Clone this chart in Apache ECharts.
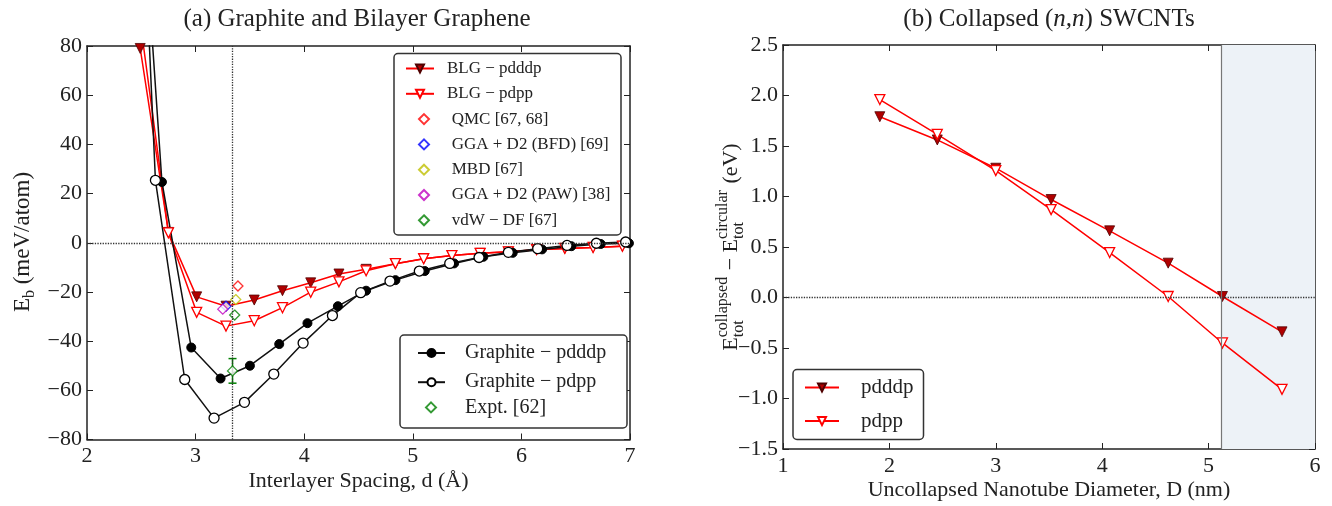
<!DOCTYPE html>
<html lang="en">
<head>
    <meta charset="UTF-8">
    <title>Graphite / BLG binding energy and collapsed SWCNTs</title>
    <style>
        *{ margin: 0; padding: 0; }
        body{ background: #fff; }
    </style>
</head>
<body>
<div id="main" style="width: 1332px;height: 506px;"></div>
<script src="https://cdn.jsdelivr.net/npm/echarts@6/dist/echarts.min.js"></script>
<script type="text/javascript">
    // (a) bilayer graphene, interlayer spacing (Å) and binding energy (meV/atom)
    var blgD      = [2.49, 2.75, 3.01, 3.28, 3.54, 3.80, 4.06, 4.32, 4.57, 4.84, 5.10, 5.36, 5.62, 5.88, 6.14, 6.40, 6.66, 6.93];
    var blgPdddp  = [79, 4.2, -22.0, -25.8, -23.3, -19.5, -16.3, -12.7, -10.8, -8.5, -6.5, -5.2, -4.3, -3.7, -2.8, -2.3, -1.9, -1.4];
    var blgPdpp   = [90, 4.0, -28.3, -33.9, -31.7, -26.4, -20.1, -15.9, -11.4, -8.5, -6.5, -5.2, -4.3, -3.7, -2.8, -2.3, -1.9, -1.4];

    // (a) graphite
    var grDdddp   = [2.42, 2.69, 2.96, 3.23, 3.50, 3.77, 4.03, 4.31, 4.57, 4.84, 5.11, 5.38, 5.65, 5.92, 6.19, 6.46, 6.73, 6.99];
    var grPdddp   = [200, 24.7, -42.6, -55.2, -50.0, -41.2, -32.7, -25.8, -19.5, -15.2, -11.5, -8.4, -5.7, -4.1, -2.7, -1.4, -0.5, -0.2];
    var grDdpp    = [2.36, 2.63, 2.90, 3.17, 3.45, 3.72, 3.99, 4.26, 4.52, 4.79, 5.06, 5.34, 5.61, 5.88, 6.15, 6.42, 6.69, 6.96];
    var grPdpp    = [293, 25.4, -55.6, -71.3, -64.9, -53.4, -40.8, -29.6, -20.3, -15.6, -11.5, -8.4, -6.0, -3.9, -2.4, -1.1, -0.2, 0.3];

    // (a) reference values [d, E]
    var qmc  = [[3.39, -17.6]];
    var bfd  = [[3.28, -25.8]];
    var mbd  = [[3.37, -23.1]];
    var paw  = [[3.25, -27.0]];
    var vdw  = [[3.36, -29.4]];
    var expt = [[3.34, -52.1]];
    var exptErr = [[3.34, -57.1, -47.1]];
    var graphiteD0 = 3.34;

    // (b) collapsed (n,n) SWCNTs
    var tubeD      = [1.91, 2.45, 3.00, 3.52, 4.07, 4.62, 5.13, 5.69];
    var tubePdddp  = [1.79, 1.56, 1.28, 0.97, 0.66, 0.34, 0.01, -0.34];
    var tubePdpp   = [1.96, 1.615, 1.256, 0.87, 0.445, 0.01, -0.45, -0.91];
    var collapseD  = 5.12;

    var FONT = '"Liberation Serif", "DejaVu Serif", serif';

    function pairs(xs, ys){
        var out = [];
        for(var i = 0; i < xs.length; i++){
            out.push([xs[i], ys[i]]);
        }
        return out;
    }
    function minus(s){
        return String(s).replace('-', '\u2212');
    }

    // text width helper for hand-built axis titles
    var ctx = document.createElement('canvas').getContext('2d');
    function tw(text, size){
        ctx.font = size + 'px ' + FONT;
        return ctx.measureText(text).width;
    }
    // rotated label built from pieces
    function rotatedLabel(cx, cy, parts){
        var kids = [];
        var x = 0;
        parts.forEach(function(p){
            if(p.stack){
                kids.push({type: 'text', x: x, y: -8, style: {text: p.stack[0], font: p.size + 'px ' + FONT, fill: '#222', verticalAlign: 'middle'}});
                kids.push({type: 'text', x: x, y: 8, style: {text: p.stack[1], font: p.size + 'px ' + FONT, fill: '#222', verticalAlign: 'middle'}});
                x += Math.max(tw(p.stack[0], p.size), tw(p.stack[1], p.size)) + 1;
            }else{
                kids.push({type: 'text', x: x, y: p.dy || 0, style: {text: p.text, font: p.size + 'px ' + FONT, fill: '#222', verticalAlign: 'middle'}});
                x += tw(p.text, p.size);
            }
        });
        kids.forEach(function(k){ k.x -= x / 2; });
        return {type: 'group', x: cx, y: cy, rotation: Math.PI / 2, children: kids, z: 20};
    }

    var axisLine = {show: true, onZero: false, lineStyle: {color: '#222', width: 1.5}};
    var axisTick = {show: true, inside: true, length: 6, lineStyle: {color: '#222', width: 1}};
    var nameFont = {fontFamily: FONT, fontSize: 22, color: '#222'};

    function frameAxis(grid, min, max, interval, pos){
        return {
            type: 'value', gridIndex: grid, min: min, max: max, interval: interval, position: pos,
            axisLine: axisLine, axisTick: axisTick, axisLabel: {show: false}, splitLine: {show: false}
        };
    }

    var dotted = {type: 'dotted', color: '#333', width: 1.3};

    var refStyle = function(name, data, color){
        return {
            name: name, type: 'scatter', xAxisIndex: 0, yAxisIndex: 0, data: data,
            symbol: 'diamond', symbolSize: 10,
            itemStyle: {color: '#fff', borderColor: color, borderWidth: 1.3}, z: 4
        };
    };

    function legendBox(names, left, top, w, h, gap, size, lh, pad){
        return {
            data: names, orient: 'vertical', left: left, top: top, padding: 0,
            itemWidth: w, itemHeight: h, itemGap: gap, selectedMode: false, z: 30,
            textStyle: {fontFamily: FONT, fontSize: size, lineHeight: lh, color: '#222', padding: [0, 0, 0, pad]}
        };
    }

    var myChart = echarts.init(document.getElementById('main'));
    myChart.setOption({
        animation: false,
        grid: [
            {left: 87, top: 46, width: 543, height: 393.5},
            {left: 783, top: 45, width: 532, height: 404}
        ],
        xAxis: [
            {
                type: 'value', gridIndex: 0, min: 2, max: 7, interval: 1,
                axisLine: axisLine, axisTick: axisTick, splitLine: {show: false},
                axisLabel: {fontFamily: FONT, fontSize: 22, color: '#222', margin: 6},
                name: 'Interlayer Spacing, d (Å)', nameLocation: 'middle', nameGap: 31, nameMoveOverlap: false,
                nameTextStyle: nameFont
            },
            frameAxis(0, 2, 7, 1, 'top'),
            {
                type: 'value', gridIndex: 1, min: 1, max: 6, interval: 1,
                axisLine: axisLine, axisTick: axisTick, splitLine: {show: false},
                axisLabel: {fontFamily: FONT, fontSize: 22, color: '#222', margin: 6},
                name: 'Uncollapsed Nanotube Diameter, D (nm)', nameLocation: 'middle', nameGap: 30, nameMoveOverlap: false,
                nameTextStyle: nameFont
            },
            frameAxis(1, 1, 6, 1, 'top')
        ],
        yAxis: [
            {
                type: 'value', gridIndex: 0, min: -80, max: 80, interval: 20,
                axisLine: axisLine, axisTick: axisTick, splitLine: {show: false},
                axisLabel: {fontFamily: FONT, fontSize: 22, color: '#222', margin: 5,
                    formatter: function(v){ return minus(v); }}
            },
            frameAxis(0, -80, 80, 20, 'right'),
            {
                type: 'value', gridIndex: 1, min: -1.5, max: 2.5, interval: 0.5,
                axisLine: axisLine, axisTick: axisTick, splitLine: {show: false},
                axisLabel: {fontFamily: FONT, fontSize: 22, color: '#222', margin: 5,
                    formatter: function(v){ return minus(v.toFixed(1)); }}
            },
            frameAxis(1, -1.5, 2.5, 0.5, 'right')
        ],
        legend: [
            legendBox(['BLG − pdddp', 'BLG − pdpp'], 405, 60, 28, 10, 8.3, 17, 17, 8),
            legendBox(['QMC [67, 68]', 'GGA + D2 (BFD) [69]', 'MBD [67]', 'GGA + D2 (PAW) [38]', 'vdW − DF [67]'], 418, 110.6, 10, 10, 8.3, 17, 17, 17.7),
            legendBox(['Graphite − pdddp', 'Graphite − pdpp'], 417, 343, 27, 10, 9.2, 20, 18, 15),
            legendBox(['Expt. [62]'], 425, 397.4, 10, 10, 9.2, 20, 18, 24),
            legendBox(['pdddp', 'pdpp'], 804, 377, 34, 10, 12.6, 21, 19, 17)
        ],
        graphic: [
            {type: 'rect', shape: {x: 394, y: 53.5, width: 227, height: 181.5, r: 4}, style: {fill: '#fff', stroke: '#333', lineWidth: 1.5}, z: 20},
            {type: 'rect', shape: {x: 400, y: 335, width: 227, height: 93, r: 4}, style: {fill: '#fff', stroke: '#333', lineWidth: 1.5}, z: 20},
            {type: 'rect', shape: {x: 793, y: 369.5, width: 130.5, height: 70, r: 4}, style: {fill: '#fff', stroke: '#333', lineWidth: 1.5}, z: 20},
            {type: 'text', x: 357, y: 19, z: 20, style: {text: '(a) Graphite and Bilayer Graphene', font: '25px ' + FONT, fill: '#222', align: 'center', verticalAlign: 'middle'}},
            {type: 'text', x: 1049, y: 19, z: 20, style: {
                text: '{a|(b) Collapsed (}{i|n,n}{a|) SWCNTs}', align: 'center', verticalAlign: 'middle',
                rich: {a: {font: '25px ' + FONT, fill: '#222'}, i: {font: 'italic 25px ' + FONT, fill: '#222'}}
            }},
            rotatedLabel(23, 242, [
                {text: 'E', size: 23}, {text: 'b', size: 16, dy: 7}, {text: ' (meV/atom)', size: 23}
            ]),
            rotatedLabel(731, 247, [
                {text: 'E', size: 22}, {stack: ['collapsed', 'tot'], size: 16},
                {text: ' \u2212 E', size: 22}, {stack: ['circular', 'tot'], size: 16},
                {text: ' (eV)', size: 22}
            ])
        ],
        series: [
            {
                name: 'BLG − pdddp', type: 'line', xAxisIndex: 0, yAxisIndex: 0,
                data: pairs(blgD, blgPdddp),
                symbol: 'triangle', symbolRotate: 180, symbolSize: 10,
                lineStyle: {color: '#ff0000', width: 1.5},
                itemStyle: {color: '#b00000', borderColor: '#500000', borderWidth: 0.8},
                markLine: {
                    silent: true, symbol: 'none', label: {show: false}, lineStyle: dotted,
                    data: [{yAxis: 0}, {xAxis: graphiteD0}]
                }
            },
            {
                name: 'BLG − pdpp', type: 'line', xAxisIndex: 0, yAxisIndex: 0,
                data: pairs(blgD, blgPdpp),
                symbol: 'triangle', symbolRotate: 180, symbolSize: 10,
                lineStyle: {color: '#ff0000', width: 1.5},
                itemStyle: {color: '#fff', borderColor: '#ff0000', borderWidth: 1.3}
            },
            refStyle('QMC [67, 68]', qmc, '#ff0000'),
            refStyle('GGA + D2 (BFD) [69]', bfd, '#0000ff'),
            refStyle('MBD [67]', mbd, '#bfbf00'),
            refStyle('GGA + D2 (PAW) [38]', paw, '#bf00bf'),
            refStyle('vdW − DF [67]', vdw, '#008000'),
            {
                name: 'Graphite − pdddp', type: 'line', xAxisIndex: 0, yAxisIndex: 0,
                data: pairs(grDdddp, grPdddp),
                symbol: 'circle', symbolSize: 9,
                lineStyle: {color: '#111', width: 1.5},
                itemStyle: {color: '#000', borderColor: '#000', borderWidth: 1}
            },
            {
                name: 'Graphite − pdpp', type: 'line', xAxisIndex: 0, yAxisIndex: 0,
                data: pairs(grDdpp, grPdpp),
                symbol: 'circle', symbolSize: 10,
                lineStyle: {color: '#111', width: 1.5},
                itemStyle: {color: '#fff', borderColor: '#000', borderWidth: 1.3}
            },
            {
                type: 'custom', xAxisIndex: 0, yAxisIndex: 0, data: exptErr, z: 4,
                renderItem: function(params, api){
                    var lo = api.coord([api.value(0), api.value(1)]);
                    var hi = api.coord([api.value(0), api.value(2)]);
                    var st = {stroke: '#008000', lineWidth: 1.5};
                    return {type: 'group', children: [
                        {type: 'line', shape: {x1: lo[0], y1: lo[1], x2: hi[0], y2: hi[1]}, style: st},
                        {type: 'line', shape: {x1: lo[0] - 4, y1: lo[1], x2: lo[0] + 4, y2: lo[1]}, style: st},
                        {type: 'line', shape: {x1: hi[0] - 4, y1: hi[1], x2: hi[0] + 4, y2: hi[1]}, style: st}
                    ]};
                }
            },
            {
                name: 'Expt. [62]', type: 'scatter', xAxisIndex: 0, yAxisIndex: 0, data: expt,
                symbol: 'diamond', symbolSize: 10, z: 5,
                itemStyle: {color: '#fff', borderColor: '#008000', borderWidth: 1.3}
            },
            {
                name: 'pdddp', type: 'line', xAxisIndex: 2, yAxisIndex: 2,
                data: pairs(tubeD, tubePdddp),
                symbol: 'triangle', symbolRotate: 180, symbolSize: 10,
                lineStyle: {color: '#ff0000', width: 1.5},
                itemStyle: {color: '#b00000', borderColor: '#500000', borderWidth: 0.8},
                markArea: {
                    silent: true, itemStyle: {color: '#edf2f7'},
                    data: [[{xAxis: collapseD}, {xAxis: 6}]]
                },
                markLine: {
                    silent: true, symbol: 'none', label: {show: false},
                    data: [
                        {yAxis: 0, lineStyle: dotted},
                        {xAxis: collapseD, lineStyle: {type: 'solid', color: '#777', width: 1.2}}
                    ]
                }
            },
            {
                name: 'pdpp', type: 'line', xAxisIndex: 2, yAxisIndex: 2,
                data: pairs(tubeD, tubePdpp),
                symbol: 'triangle', symbolRotate: 180, symbolSize: 10,
                lineStyle: {color: '#ff0000', width: 1.5},
                itemStyle: {color: '#fff', borderColor: '#ff0000', borderWidth: 1.3}
            }
        ]
    });
</script>
</body>
</html>
